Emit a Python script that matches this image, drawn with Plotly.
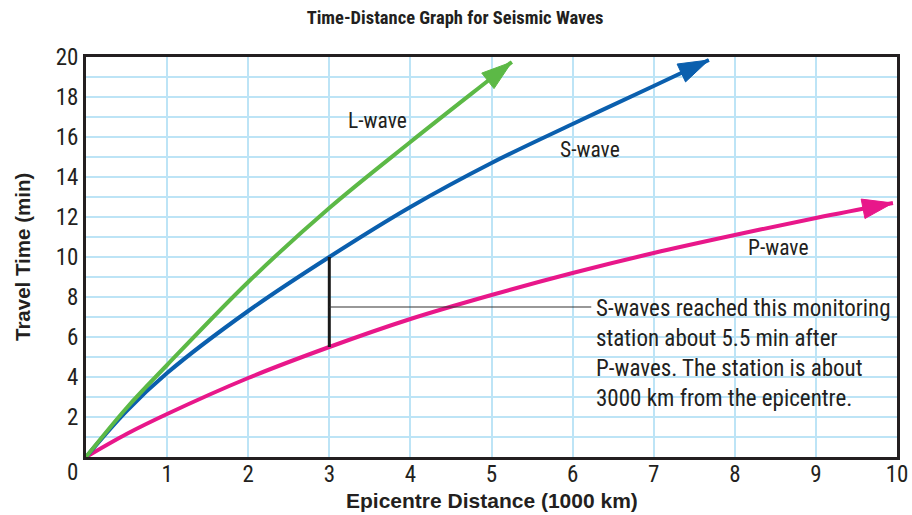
import plotly.graph_objects as go

# ---- data ----
l_dist = [0, 0.5, 1, 2, 3, 4, 5, 5.25]
l_time = [0, 2.45, 4.6, 8.75, 12.45, 15.75, 18.95, 19.75]

s_dist = [0, 0.5, 1, 2, 3, 4, 5, 6, 7, 7.68]
s_time = [0, 2.3, 4.2, 7.3, 10.0, 12.5, 14.7, 16.65, 18.55, 19.85]

p_dist = [0, 0.5, 1, 2, 3, 4, 5, 6, 7, 8, 9, 9.95]
p_time = [0, 1.15, 2.15, 3.95, 5.5, 6.9, 8.1, 9.2, 10.2, 11.1, 11.95, 12.7]

station_dist = 3
station_p = 5.5
station_s = 10.0
note_time = 7.5
note_end = 6.23

x_tickvals = list(range(0, 11))
x_ticktext = ["", "1", "2", "3", "4", "5", "6", "7", "8", "9", "10"]
y_tickvals = list(range(0, 21))
y_ticktext = [str(v) if (v % 2 == 0 and v > 0) else "" for v in y_tickvals]

wave_labels = ["L-wave", "S-wave", "P-wave"]
label_pos = [(3.6, 16.85), (6.21, 15.4), (8.54, 10.5)]
note_text = ("S-waves reached this monitoring<br>station about 5.5 min after<br>"
             "P-waves. The station is about<br>3000 km from the epicentre.")

FONT = "Liberation Sans Narrow, Arial Narrow, Roboto Condensed, Liberation Sans, sans-serif"
BOLD = "Liberation Sans, Arial, sans-serif"
INK = "#231f20"

GREEN = "#5cb946"
BLUE = "#0a5fae"
PINK = "#e8178a"

fig = go.Figure()


def wave(xs, ys, color):
    sizes = [0] * (len(xs) - 1) + [32]
    fig.add_trace(go.Scatter(
        x=xs, y=ys, mode="lines+markers",
        line=dict(color=color, width=4, shape="spline", smoothing=1.0),
        marker=dict(symbol="arrow", size=sizes, color=color, angleref="previous",
                    opacity=1, line=dict(width=1, color=color)),
        hoverinfo="skip", showlegend=False, cliponaxis=False))


wave(p_dist, p_time, PINK)
wave(s_dist, s_time, BLUE)
wave(l_dist, l_time, GREEN)

# station vertical line
fig.add_trace(go.Scatter(
    x=[station_dist, station_dist], y=[station_p, station_s], mode="lines",
    line=dict(color="#1a1a1a", width=3), hoverinfo="skip", showlegend=False))
# connector line
fig.add_trace(go.Scatter(
    x=[station_dist, note_end], y=[note_time, note_time], mode="lines",
    line=dict(color="#333333", width=1.2), hoverinfo="skip", showlegend=False))

annotations = []
for txt, (lx, ly) in zip(wave_labels, label_pos):
    annotations.append(dict(x=lx, y=ly, text=txt, showarrow=False,
                            font=dict(family=FONT, size=21.5, color=INK)))
annotations.append(dict(x=note_end, y=5.2, text=note_text, showarrow=False,
                        xanchor="left", yanchor="middle", align="left", xshift=4,
                        borderpad=0,
                        font=dict(family=FONT, size=23, color=INK)))
annotations.append(dict(x=0, y=0, text="0", showarrow=False, xshift=-14, yshift=-15,
                        xanchor="center", yanchor="middle",
                        font=dict(family=FONT, size=23, color=INK)))
annotations.append(dict(xref="paper", yref="paper", x=0.5, y=0, yshift=-43,
                        xanchor="center", yanchor="middle",
                        text="<b>Epicentre Distance (1000 km)</b>", showarrow=False,
                        font=dict(family=BOLD, size=21, color=INK)))
annotations.append(dict(xref="paper", yref="paper", x=0, y=0.5, xshift=-64,
                        xanchor="center", yanchor="middle",
                        text="<b>Travel Time (min)</b>", showarrow=False, textangle=-90,
                        font=dict(family=BOLD, size=20.5, color=INK)))

fig.update_layout(
    width=912, height=515,
    margin=dict(l=86, r=15, t=57, b=58, autoexpand=False),
    paper_bgcolor="white", plot_bgcolor="white",
    title=dict(text="<b>Time-Distance Graph for Seismic Waves</b>",
               x=0.499, xref="container", xanchor="center",
               y=1 - 18 / 515, yref="container", yanchor="middle",
               font=dict(family=FONT, size=18.5, color=INK)),
    annotations=annotations,
    xaxis=dict(range=[0, 10], tickvals=x_tickvals, ticktext=x_ticktext,
               showgrid=True, gridcolor="#bde4f6", gridwidth=1.5,
               showline=True, linecolor=INK, linewidth=3, mirror=True,
               ticks="", zeroline=False, ticklabelstandoff=-6,
               tickfont=dict(family=FONT, size=23, color=INK)),
    yaxis=dict(range=[0, 20], tickvals=y_tickvals, ticktext=y_ticktext,
               showgrid=True, gridcolor="#bde4f6", gridwidth=1.5,
               showline=True, linecolor=INK, linewidth=3, mirror=True,
               ticks="", zeroline=False, ticklabelstandoff=0,
               tickfont=dict(family=FONT, size=23, color=INK)),
)

fig.write_html("out.html", config={"displayModeBar": False},
               post_script="document.body.style.margin='0';document.body.style.padding='0';")
